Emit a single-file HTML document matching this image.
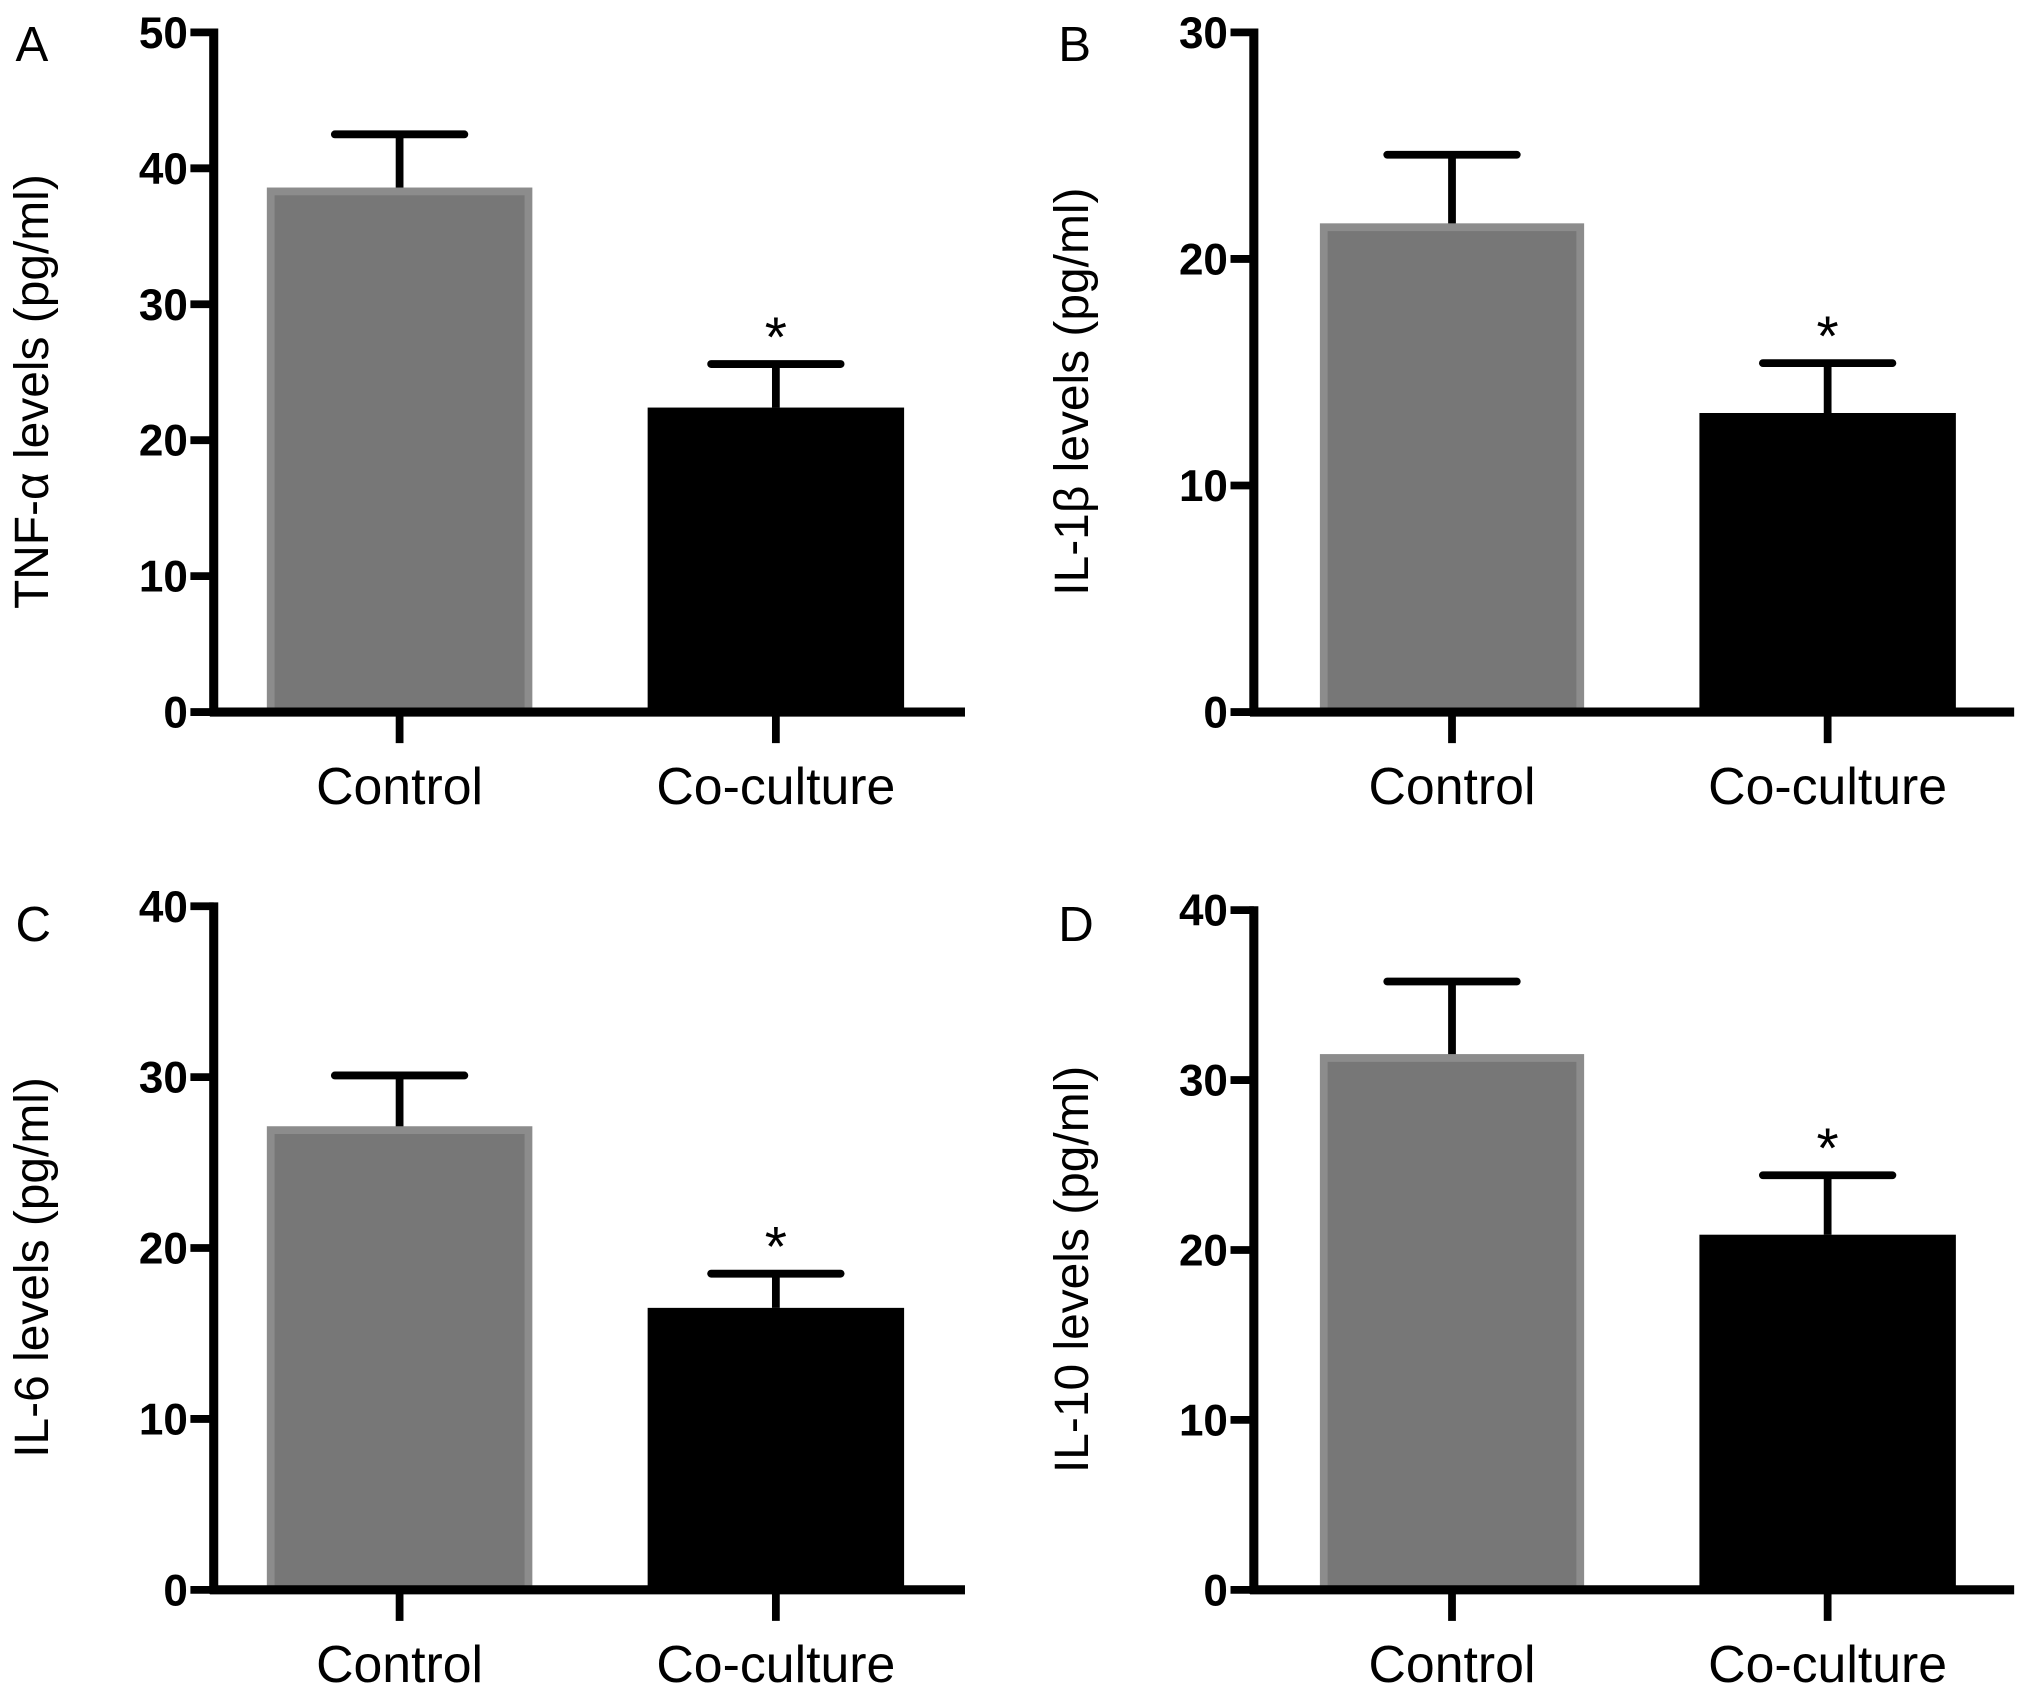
<!DOCTYPE html>
<html><head><meta charset="utf-8"><style>
html,body{margin:0;padding:0;background:#fff;}
svg{display:block;}
</style></head><body>
<svg id="fig" width="2031" height="1696" viewBox="0 0 1568 1310" preserveAspectRatio="none" xmlns="http://www.w3.org/2000/svg" font-family="Liberation Sans, sans-serif"></svg>
<script>
const categories = ["Control", "Co-culture"];
const panelLetters = ["A", "B", "C", "D"];
const panelTitles = ["TNF-\u03B1 levels (pg/ml)", "IL-1\u03B2 levels (pg/ml)", "IL-6 levels (pg/ml)", "IL-10 levels (pg/ml)"];
const panelMax = [50, 30, 40, 40];
const tickStep = [10, 10, 10, 10];
const meanA = [38.3, 22.4];
const errA = [42.5, 25.6];
const meanB = [21.4, 13.2];
const errB = [24.6, 15.4];
const meanC = [26.9, 16.5];
const errC = [30.1, 18.5];
const meanD = [31.3, 20.9];
const errD = [35.8, 24.4];
const significant = [false, true];

const means = [meanA, meanB, meanC, meanD];
const errs = [errA, errB, errC, errD];
const layout = [
  {ax:165, y0:550, yT:25, xEnd:745, bx:[209,500], bw:[199,198], lx:30, ly:25, labY:607},
  {ax:968, y0:550, yT:25, xEnd:1555, bx:[1022,1312], bw:[198,198], lx:835, ly:25, labY:607},
  {ax:165, y0:1228, yT:700, xEnd:745, bx:[209,500], bw:[199,198], lx:30, ly:705, labY:1285},
  {ax:968, y0:1228, yT:703, xEnd:1555, bx:[1022,1312], bw:[198,198], lx:835, ly:705, labY:1285}
];
const NS = "http://www.w3.org/2000/svg";
const svg = document.getElementById("fig");
function mk(tag, attrs, parent){
  const e = document.createElementNS(NS, tag);
  for (const k in attrs) e.setAttribute(k, attrs[k]);
  (parent||svg).appendChild(e);
  return e;
}
layout.forEach((L, p) => {
  const g = mk("g", {});
  
  
  const yScale = v => L.y0 - (v / panelMax[p]) * (L.y0 - L.yT);
  categories.forEach((c, i) => {
    const top = yScale(means[p][i]);
    const xc = L.bx[i] + L.bw[i] / 2;
    const e = errs[p][i];
    const ey = yScale(e);
    const el = mk("line", {x1:xc, x2:xc, y1:top, y2:ey, stroke:"#000", "stroke-width":6}, g);
    
    
    const cap = mk("line", {x1:xc-50, x2:xc+50, y1:ey, y2:ey, stroke:"#000", "stroke-width":6, "stroke-linecap":"round"}, g);
    
    
    const r = mk("rect", {x:L.bx[i], y:top, width:L.bw[i], height:L.y0 - top,
      fill: i === 0 ? "#777" : "#000", stroke: i === 0 ? "#8c8c8c" : "#000", "stroke-width": i === 0 ? 6 : 0}, g);
    
    
    if (significant[i]) {
      const s = mk("text", {x:xc, y:ey - 6, "font-size":44, "text-anchor":"middle"}, g);
      s.textContent = "*";
      
      
    }
    const xt = mk("line", {x1:xc, x2:xc, y1:L.y0, y2:L.y0 + 24, stroke:"#000", "stroke-width":6}, g);
    
    
    const lab = mk("text", {x:xc, y:L.labY + 14, "font-size":40, "text-anchor":"middle"}, g);
    lab.textContent = c;
    
    
  });
  const ya = mk("line", {x1:L.ax, x2:L.ax, y1:L.yT - 3, y2:L.y0 + 3, stroke:"#000", "stroke-width":7}, g);
  
  
  const xa = mk("line", {x1:L.ax - 3, x2:L.xEnd, y1:L.y0, y2:L.y0, stroke:"#000", "stroke-width":7}, g);
  
  
  for (let v = 0; v <= panelMax[p]; v += tickStep[p]) {
    const y = yScale(v);
    const t = mk("line", {x1:L.ax - 18, x2:L.ax, y1:y, y2:y, stroke:"#000", "stroke-width":6}, g);
    
    
    const tl = mk("text", {x:L.ax - 20, y:y + 12, "font-size":34, "font-weight":"bold", "text-anchor":"end"}, g);
    tl.textContent = v;
    
    
  }
  const mid = (L.y0 + L.yT) / 2 + 15;
  const tx = L.ax - 128;
  const tt = mk("text", {x:0, y:0, "font-size":37, "text-anchor":"middle", transform:`translate(${tx},${mid}) rotate(-90)`}, g);
  tt.textContent = panelTitles[p];
  
  
  const pl = mk("text", {x:L.lx - 18, y:L.ly + 22, "font-size":38}, g);
  pl.textContent = panelLetters[p];
  
  
});
</script>
</body></html>
